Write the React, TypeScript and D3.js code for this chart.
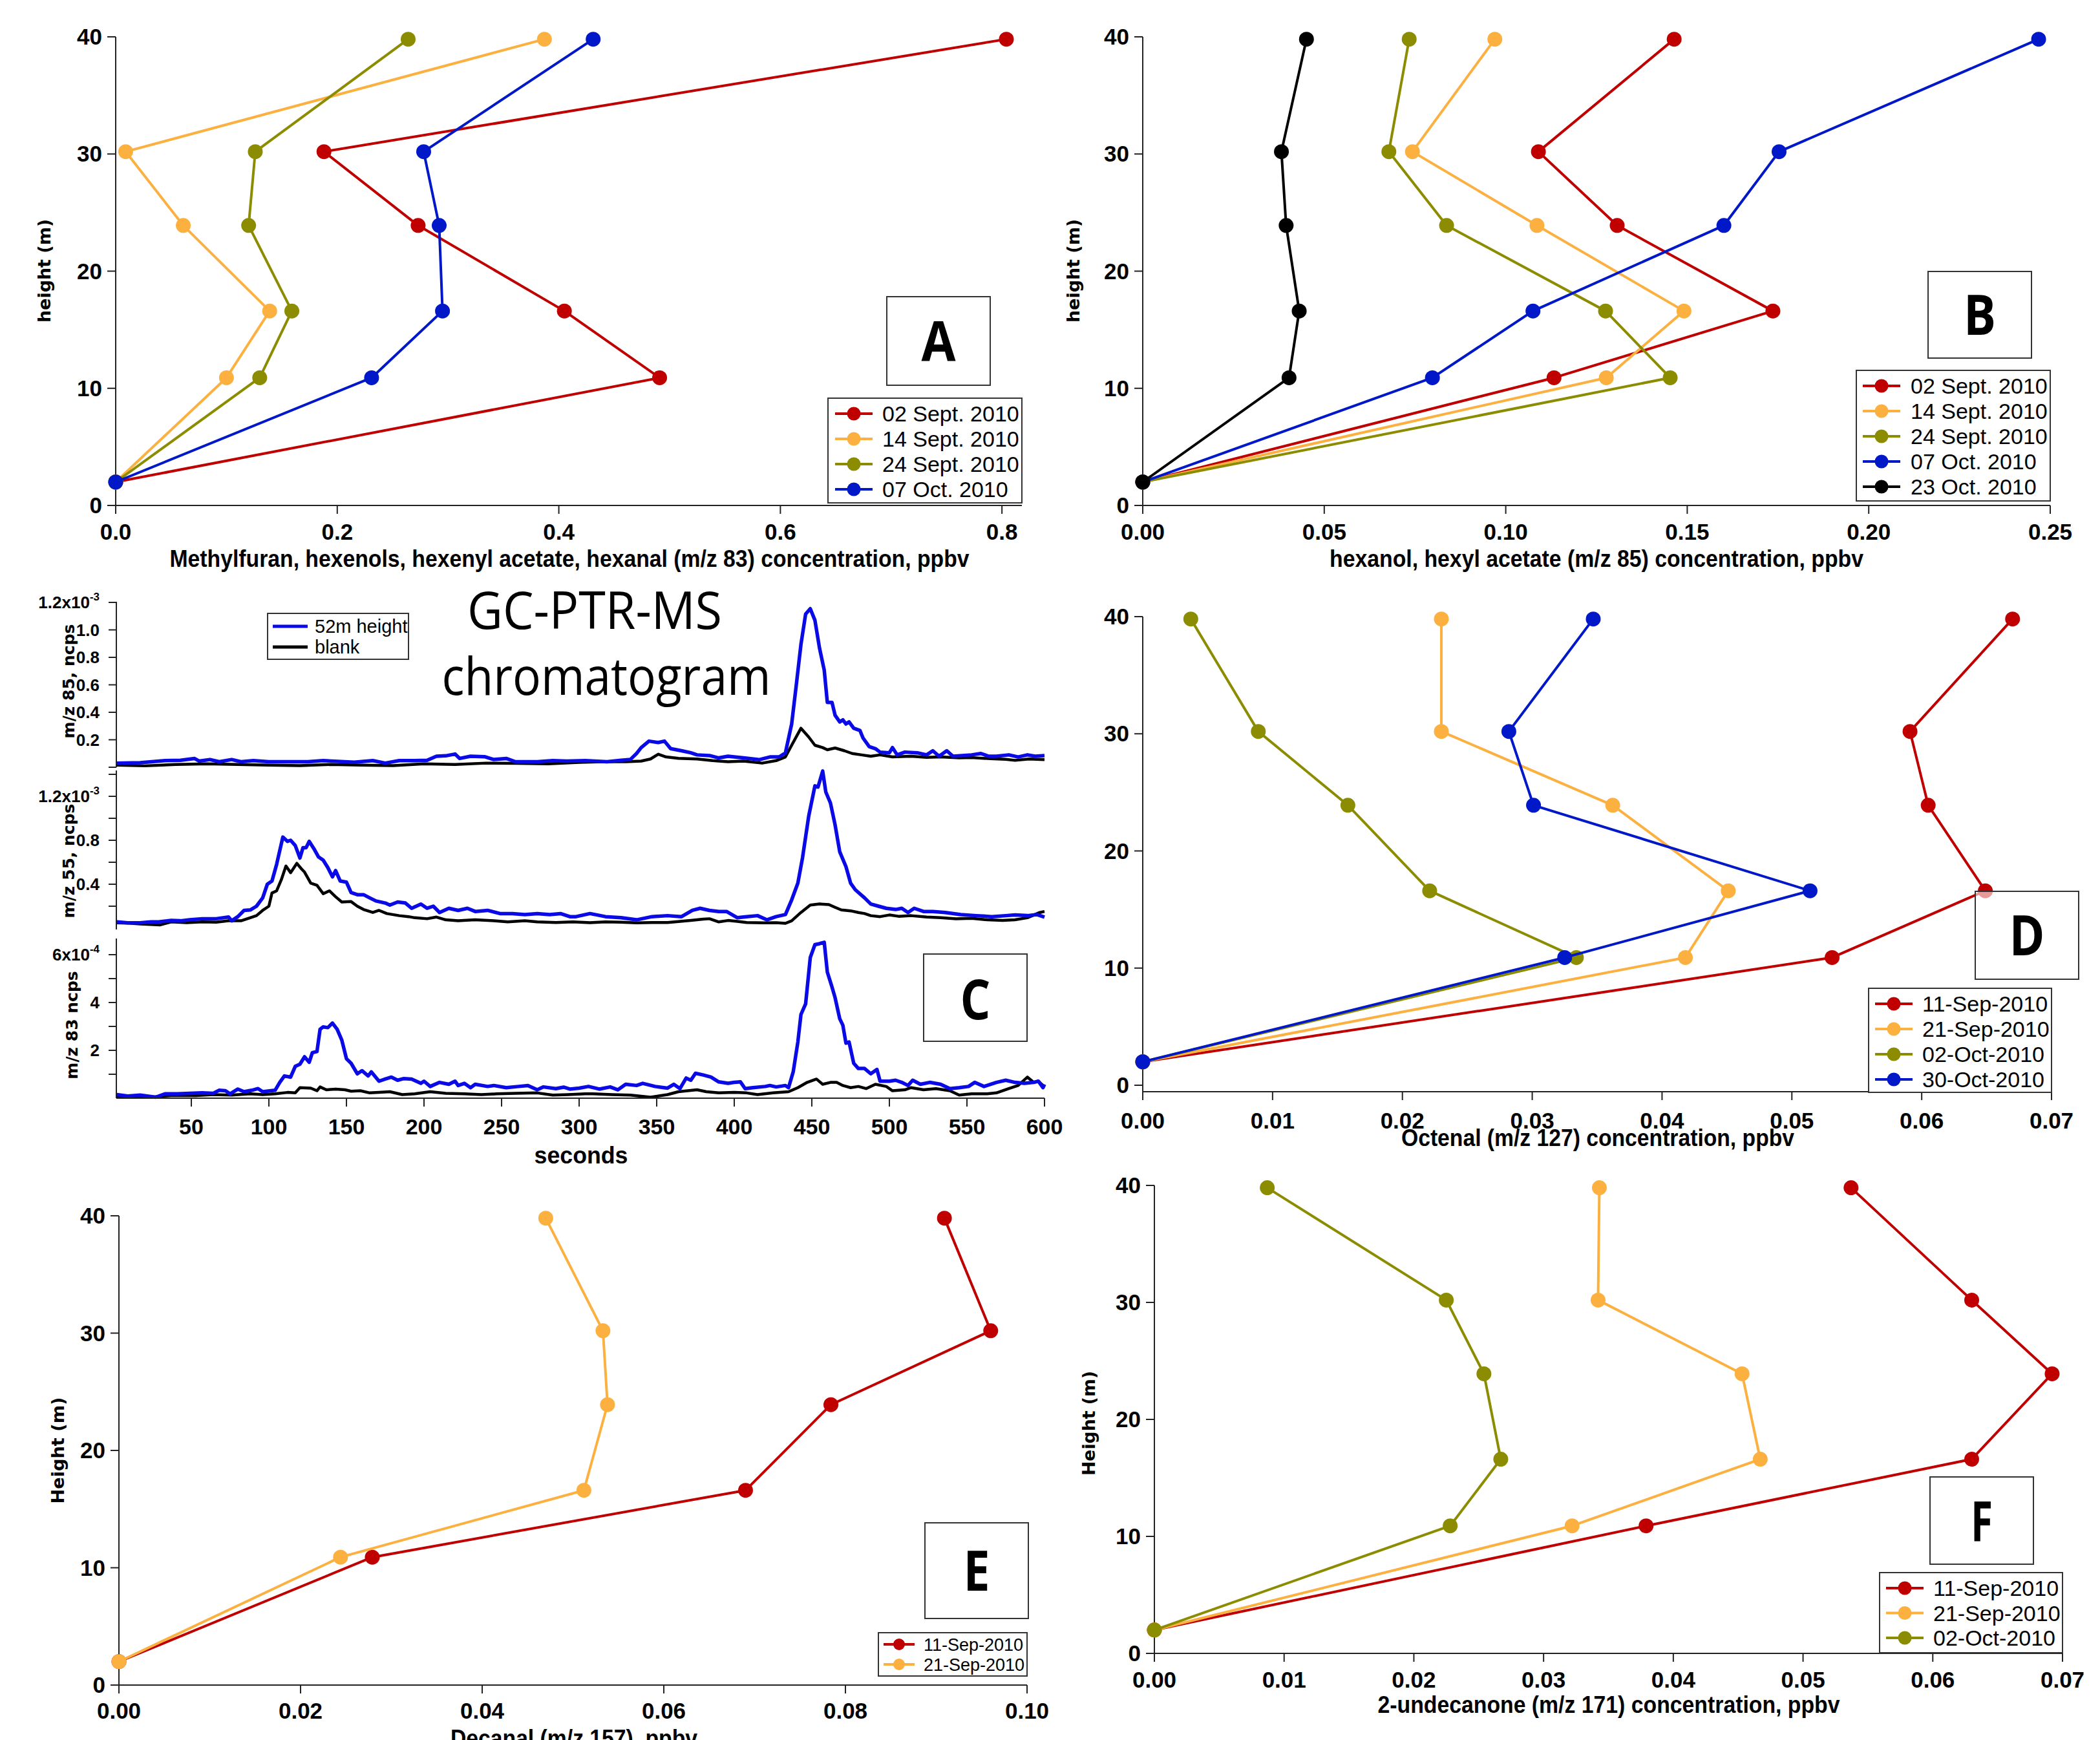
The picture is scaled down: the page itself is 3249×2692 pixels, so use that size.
import * as d3 from "d3";

// sampling heights (m), shared by all profile panels
const heights = [2, 10.9, 16.6, 23.9, 30.2, 39.8];

// Panel A: m/z 83 profiles (ppbv)
const aDates = ["02 Sept. 2010", "14 Sept. 2010", "24 Sept. 2010", "07 Oct. 2010"];
const aSep02 = [0, 0.491, 0.405, 0.273, 0.188, 0.804];
const aSep14 = [0, 0.1, 0.139, 0.061, 0.009, 0.387];
const aSep24 = [0, 0.13, 0.159, 0.12, 0.126, 0.264];
const aOct07 = [0, 0.231, 0.295, 0.292, 0.278, 0.431];

// Panel B: m/z 85 profiles (ppbv)
const bDates = ["02 Sept. 2010", "14 Sept. 2010", "24 Sept. 2010", "07 Oct. 2010", "23 Oct. 2010"];
const bSep02 = [0, 0.1133, 0.1736, 0.1307, 0.109, 0.1464];
const bSep14 = [0, 0.1277, 0.1491, 0.1086, 0.0743, 0.097];
const bSep24 = [0, 0.1453, 0.1275, 0.0837, 0.0678, 0.0734];
const bOct07 = [0, 0.0798, 0.1075, 0.1601, 0.1753, 0.2468];
const bOct23 = [0, 0.0403, 0.0431, 0.0395, 0.0382, 0.0451];

// Panel D: octenal
const dDates = ["11-Sep-2010", "21-Sep-2010", "02-Oct-2010", "30-Oct-2010"];
const dSep11 = [0, 0.0531, 0.0649, 0.0605, 0.0591, 0.067];
const dSep21 = [0, 0.0418, 0.0451, 0.0362, 0.023, 0.023];
const dOct02 = [0, 0.0334, 0.0221, 0.0158, 0.0089, 0.0037];
const dOct30 = [0, 0.0325, 0.0514, 0.0301, 0.0282, 0.0347];

// Panel E: decanal
const eDates = ["11-Sep-2010", "21-Sep-2010"];
const eSep11 = [0, 0.0279, 0.069, 0.0784, 0.096, 0.0909];
const eSep21 = [0, 0.0244, 0.0512, 0.0538, 0.0533, 0.047];

// Panel F: 2-undecanone
const fDates = ["11-Sep-2010", "21-Sep-2010", "02-Oct-2010"];
const fSep11 = [0, 0.0379, 0.063, 0.0692, 0.063, 0.0537];
const fSep21 = [0, 0.0322, 0.0467, 0.0453, 0.0342, 0.0343];
const fOct02 = [0, 0.0228, 0.0267, 0.0254, 0.0225, 0.0087];

// Panel C: chromatogram traces, [seconds, signal]
// m/z 85 in 1e-3 ncps
const mz85Sample: [number, number][] = [
  [2, 0.03], [17, 0.033], [33, 0.048], [43, 0.051], [52, 0.064], [55, 0.045], [62, 0.056], [68, 0.04],
  [76, 0.056], [82, 0.04], [90, 0.048], [100, 0.04], [115, 0.04], [125, 0.04], [135, 0.048], [155, 0.036],
  [167, 0.048], [175, 0.03], [184, 0.048], [194, 0.048], [202, 0.051], [208, 0.08], [214, 0.083], [220, 0.096],
  [223, 0.064], [230, 0.08], [239, 0.077], [245, 0.056], [253, 0.064], [259, 0.04], [273, 0.04], [283, 0.048],
  [292, 0.045], [304, 0.048], [318, 0.04], [327, 0.051], [333, 0.056], [337, 0.1], [340, 0.143], [345, 0.19],
  [351, 0.18], [355, 0.19], [359, 0.135], [366, 0.12], [372, 0.105], [376, 0.09], [384, 0.085], [390, 0.068],
  [396, 0.08], [406, 0.068], [416, 0.055], [423, 0.075], [429, 0.075], [433, 0.105], [437, 0.315], [440, 0.6],
  [443, 0.895], [446, 1.115], [449, 1.154], [452, 1.07], [455, 0.865], [458, 0.707], [460, 0.472], [463, 0.472],
  [465, 0.378], [468, 0.33], [470, 0.345], [472, 0.315], [474, 0.33], [477, 0.284], [481, 0.268], [483, 0.213],
  [487, 0.15], [491, 0.135], [494, 0.11], [500, 0.105], [502, 0.143], [505, 0.09], [510, 0.11], [518, 0.105],
  [524, 0.09], [528, 0.12], [532, 0.08], [537, 0.12], [541, 0.08], [547, 0.085], [553, 0.09], [559, 0.1],
  [564, 0.08], [569, 0.08], [577, 0.09], [583, 0.075], [589, 0.09], [594, 0.08], [600, 0.085],
];
const mz85Blank: [number, number][] = [
  [2, 0.015], [20, 0.01], [40, 0.02], [60, 0.025], [80, 0.02], [100, 0.015], [120, 0.012], [140, 0.02],
  [160, 0.015], [180, 0.012], [200, 0.025], [220, 0.02], [240, 0.03], [260, 0.028], [280, 0.025], [300, 0.035],
  [315, 0.04], [330, 0.04], [340, 0.045], [346, 0.06], [351, 0.095], [356, 0.075], [364, 0.065], [376, 0.06],
  [386, 0.048], [396, 0.04], [406, 0.045], [418, 0.03], [427, 0.048], [433, 0.075], [437, 0.16], [443, 0.284],
  [448, 0.22], [452, 0.16], [457, 0.143], [460, 0.127], [465, 0.14], [471, 0.12], [476, 0.1], [482, 0.09],
  [488, 0.08], [494, 0.09], [502, 0.075], [514, 0.08], [524, 0.072], [533, 0.075], [545, 0.068], [553, 0.07],
  [565, 0.062], [575, 0.058], [581, 0.05], [590, 0.06], [600, 0.055],
];
// m/z 55 in 1e-3 ncps
const mz55Sample: [number, number][] = [
  [2, 0.057], [9, 0.048], [17, 0.048], [24, 0.057], [29, 0.057], [37, 0.07], [43, 0.067], [49, 0.076],
  [57, 0.086], [66, 0.086], [74, 0.101], [76, 0.067], [80, 0.105], [84, 0.162], [88, 0.166], [92, 0.2],
  [96, 0.276], [99, 0.4], [102, 0.429], [105, 0.581], [109, 0.829], [112, 0.79], [114, 0.8], [117, 0.752],
  [120, 0.638], [122, 0.733], [124, 0.733], [126, 0.79], [129, 0.724], [132, 0.648], [135, 0.619], [138, 0.552],
  [141, 0.467], [143, 0.524], [146, 0.429], [150, 0.419], [153, 0.324], [157, 0.305], [161, 0.305], [165, 0.276],
  [169, 0.248], [175, 0.229], [178, 0.21], [183, 0.238], [188, 0.229], [192, 0.181], [198, 0.219], [202, 0.181],
  [206, 0.2], [210, 0.143], [216, 0.181], [222, 0.162], [228, 0.181], [233, 0.152], [241, 0.162], [249, 0.133],
  [257, 0.133], [265, 0.124], [273, 0.133], [281, 0.124], [288, 0.133], [294, 0.105], [298, 0.105], [307, 0.133],
  [317, 0.105], [327, 0.095], [337, 0.076], [347, 0.105], [357, 0.114], [366, 0.105], [373, 0.162], [378, 0.181],
  [384, 0.162], [390, 0.152], [395, 0.152], [402, 0.095], [408, 0.105], [415, 0.114], [421, 0.076], [427, 0.105],
  [433, 0.124], [437, 0.257], [441, 0.41], [444, 0.64], [448, 1.02], [452, 1.295], [454, 1.285], [457, 1.43],
  [459, 1.24], [462, 1.14], [465, 0.94], [468, 0.695], [472, 0.56], [475, 0.41], [478, 0.35], [484, 0.276],
  [488, 0.22], [493, 0.2], [498, 0.181], [504, 0.17], [508, 0.181], [512, 0.143], [516, 0.181], [522, 0.152],
  [528, 0.152], [536, 0.143], [546, 0.124], [556, 0.114], [566, 0.105], [575, 0.114], [581, 0.12], [589, 0.114],
  [595, 0.124], [600, 0.101],
];
const mz55Blank: [number, number][] = [
  [2, 0.048], [10, 0.045], [17, 0.038], [30, 0.03], [37, 0.057], [47, 0.05], [57, 0.057], [66, 0.055],
  [74, 0.067], [82, 0.067], [88, 0.095], [92, 0.114], [96, 0.162], [100, 0.2], [102, 0.32], [105, 0.34],
  [108, 0.44], [111, 0.566], [114, 0.505], [118, 0.59], [121, 0.54], [123, 0.51], [127, 0.41], [131, 0.39],
  [135, 0.314], [139, 0.34], [143, 0.286], [147, 0.238], [153, 0.242], [157, 0.2], [161, 0.17], [167, 0.143],
  [171, 0.162], [176, 0.133], [184, 0.114], [190, 0.105], [194, 0.095], [202, 0.086], [208, 0.101], [214, 0.076],
  [222, 0.067], [233, 0.076], [245, 0.067], [254, 0.057], [265, 0.067], [273, 0.057], [285, 0.051], [296, 0.057],
  [307, 0.05], [317, 0.057], [327, 0.055], [337, 0.048], [347, 0.052], [357, 0.051], [364, 0.06], [372, 0.07],
  [380, 0.082], [384, 0.086], [390, 0.057], [396, 0.07], [402, 0.062], [408, 0.051], [419, 0.048], [427, 0.05],
  [433, 0.044], [437, 0.067], [443, 0.143], [449, 0.21], [455, 0.22], [461, 0.215], [465, 0.19], [469, 0.166],
  [475, 0.158], [480, 0.143], [484, 0.133], [488, 0.114], [494, 0.105], [500, 0.12], [506, 0.108], [514, 0.114],
  [524, 0.101], [533, 0.095], [543, 0.086], [553, 0.09], [563, 0.076], [573, 0.07], [581, 0.076], [589, 0.095],
  [597, 0.143], [600, 0.152],
];
// m/z 83 in 1e-4 ncps
const mz83Sample: [number, number][] = [
  [2, 0.15], [9, 0.09], [17, 0.13], [27, 0.04], [33, 0.18], [41, 0.18], [49, 0.2], [57, 0.22],
  [64, 0.2], [68, 0.33], [72, 0.31], [75, 0.18], [80, 0.38], [84, 0.27], [89, 0.33], [93, 0.4],
  [96, 0.27], [104, 0.33], [107, 0.66], [110, 0.93], [114, 0.88], [117, 1.33], [120, 1.42], [123, 1.73],
  [126, 1.5], [128, 1.9], [131, 1.95], [133, 2.88], [135, 2.98], [138, 2.95], [141, 3.14], [144, 2.88],
  [147, 2.43], [150, 1.65], [153, 1.46], [157, 1.02], [160, 1.15], [164, 0.93], [166, 1.1], [171, 0.71],
  [175, 0.8], [179, 0.88], [183, 0.75], [187, 0.82], [192, 0.8], [198, 0.62], [200, 0.71], [204, 0.49],
  [210, 0.66], [216, 0.58], [220, 0.71], [222, 0.53], [226, 0.62], [230, 0.44], [233, 0.58], [241, 0.49],
  [245, 0.53], [253, 0.44], [261, 0.49], [267, 0.53], [273, 0.35], [277, 0.47], [285, 0.4], [290, 0.46],
  [294, 0.38], [300, 0.42], [306, 0.49], [313, 0.38], [320, 0.47], [325, 0.35], [330, 0.58], [337, 0.53],
  [341, 0.62], [349, 0.49], [357, 0.42], [361, 0.58], [365, 0.4], [369, 0.84], [372, 0.75], [375, 1.04],
  [380, 0.97], [385, 0.88], [390, 0.68], [396, 0.62], [400, 0.66], [404, 0.68], [407, 0.4], [412, 0.44],
  [420, 0.49], [423, 0.53], [427, 0.47], [433, 0.53], [435, 0.44], [438, 1.1], [441, 2.35], [443, 3.5],
  [446, 3.94], [449, 5.88], [452, 6.42], [455, 6.46], [458, 6.52], [460, 5.27], [463, 4.65], [465, 4.2],
  [468, 3.32], [470, 3.05], [472, 2.3], [474, 2.35], [477, 1.46], [480, 1.24], [484, 1.24], [488, 1.02],
  [492, 1.2], [494, 0.71], [500, 0.71], [504, 0.75], [508, 0.66], [512, 0.53], [515, 0.75], [520, 0.58],
  [526, 0.66], [533, 0.58], [539, 0.4], [545, 0.44], [551, 0.49], [555, 0.66], [561, 0.49], [569, 0.66],
  [575, 0.75], [581, 0.66], [587, 0.62], [593, 0.66], [596, 0.71], [599, 0.44], [600, 0.58],
];
const mz83Blank: [number, number][] = [
  [2, 0.09], [17, 0.05], [27, 0.06], [37, 0.11], [53, 0.11], [64, 0.15], [76, 0.13], [88, 0.18],
  [96, 0.15], [104, 0.18], [112, 0.24], [117, 0.22], [120, 0.44], [127, 0.42], [131, 0.31], [133, 0.47],
  [137, 0.35], [143, 0.38], [149, 0.35], [153, 0.29], [159, 0.31], [165, 0.22], [171, 0.24], [178, 0.27],
  [186, 0.15], [194, 0.18], [204, 0.27], [214, 0.2], [226, 0.18], [237, 0.15], [247, 0.18], [259, 0.2],
  [273, 0.22], [283, 0.13], [293, 0.15], [304, 0.18], [309, 0.18], [321, 0.15], [333, 0.13], [346, 0.04],
  [357, 0.15], [364, 0.27], [376, 0.35], [382, 0.27], [390, 0.22], [400, 0.24], [408, 0.22], [415, 0.15],
  [425, 0.22], [435, 0.27], [441, 0.44], [447, 0.66], [453, 0.8], [457, 0.58], [462, 0.66], [466, 0.66],
  [470, 0.53], [475, 0.44], [480, 0.49], [485, 0.4], [491, 0.58], [498, 0.49], [502, 0.31], [510, 0.35],
  [514, 0.44], [522, 0.35], [530, 0.4], [539, 0.31], [545, 0.13], [553, 0.18], [563, 0.18], [569, 0.22],
  [577, 0.4], [583, 0.53], [589, 0.88], [593, 0.66], [596, 0.71], [600, 0.47],
];
const secondsTicks = [50, 100, 150, 200, 250, 300, 350, 400, 450, 500, 550, 600];

const RED = "#c00000";
const ORANGE = "#fbb040";
const OLIVE = "#8c8c00";
const BLUE = "#0018c8";
const BLACK = "#000000";
const TRACE_BLUE = "#0a0ae6";

const SANS = "'Liberation Sans', Arial, Helvetica, sans-serif";
const WIDE = "'DejaVu Sans', Verdana, sans-serif";
const CAL = "'Open Sans', 'Noto Sans', sans-serif";
const AXIS = "#222";

type Series = { name: string; color: string; values: number[] };

type PanelSpec = {
  series: Series[];
  xDomain: [number, number];
  xRange: [number, number];
  tickCount: number;
  fmt: string;
  yRange: [number, number];
  xAxisY?: number;
  tickBase: number;
  xLabel: string;
  xLabelX: number;
  xLabelW: number;
  xLabelBase: number;
  yLabel?: string;
  yLabelX?: number;
  yLabelY?: number;
  yLabelW?: number;
  legend: { x: number; y: number; w: number; h: number; rowY: number; rowH: number; markX: number; textX: number; font: number; half: number; r: number };
  letter: { text: string; x: number; y: number; w: number; h: number; lw: number };
};

const panels: PanelSpec[] = [
  {
    series: [
      { name: aDates[0], color: RED, values: aSep02 },
      { name: aDates[1], color: ORANGE, values: aSep14 },
      { name: aDates[2], color: OLIVE, values: aSep24 },
      { name: aDates[3], color: BLUE, values: aOct07 },
    ],
    xDomain: [0, 0.818], xRange: [179, 1581], tickCount: 5, fmt: ".1f",
    yRange: [782, 57], tickBase: 835,
    xLabel: "Methylfuran, hexenols, hexenyl acetate, hexanal (m/z 83) concentration, ppbv",
    xLabelX: 881, xLabelW: 1237, xLabelBase: 877,
    yLabel: "height (m)", yLabelX: 68, yLabelY: 419, yLabelW: 160,
    legend: { x: 1281, y: 616, w: 300, h: 162, rowY: 640, rowH: 39, markX: 1321, textX: 1365, font: 34, half: 29, r: 10.5 },
    letter: { text: "A", x: 1372, y: 459, w: 160, h: 137, lw: 53 },
  },
  {
    series: [
      { name: bDates[0], color: RED, values: bSep02 },
      { name: bDates[1], color: ORANGE, values: bSep14 },
      { name: bDates[2], color: OLIVE, values: bSep24 },
      { name: bDates[3], color: BLUE, values: bOct07 },
      { name: bDates[4], color: BLACK, values: bOct23 },
    ],
    xDomain: [0, 0.25], xRange: [1768, 3172], tickCount: 5, fmt: ".2f",
    yRange: [782, 57], tickBase: 835,
    xLabel: "hexanol, hexyl acetate (m/z 85) concentration, ppbv",
    xLabelX: 2470, xLabelW: 826, xLabelBase: 877,
    yLabel: "height (m)", yLabelX: 1660, yLabelY: 419, yLabelW: 160,
    legend: { x: 2872, y: 573, w: 300, h: 202, rowY: 597, rowH: 39, markX: 2911, textX: 2956, font: 34, half: 29, r: 10.5 },
    letter: { text: "B", x: 2983, y: 420, w: 160, h: 134, lw: 50 },
  },
  {
    series: [
      { name: dDates[0], color: RED, values: dSep11 },
      { name: dDates[1], color: ORANGE, values: dSep21 },
      { name: dDates[2], color: OLIVE, values: dOct02 },
      { name: dDates[3], color: BLUE, values: dOct30 },
    ],
    xDomain: [0, 0.07], xRange: [1768, 3174], tickCount: 7, fmt: ".2f",
    yRange: [1679, 954], xAxisY: 1689, tickBase: 1746,
    xLabel: "Octenal (m/z 127) concentration, ppbv",
    xLabelX: 2472, xLabelW: 608, xLabelBase: 1773,
    legend: { x: 2891, y: 1529, w: 283, h: 161, rowY: 1553, rowH: 39, markX: 2930, textX: 2974, font: 34, half: 29, r: 10.5 },
    letter: { text: "D", x: 3056, y: 1379, w: 160, h: 136, lw: 55 },
  },
  {
    series: [
      { name: eDates[0], color: RED, values: eSep11 },
      { name: eDates[1], color: ORANGE, values: eSep21 },
    ],
    xDomain: [0, 0.1], xRange: [184, 1589], tickCount: 5, fmt: ".2f",
    yRange: [2607, 1881], tickBase: 2659,
    xLabel: "Decanal (m/z 157), ppbv",
    xLabelX: 888, xLabelW: 382, xLabelBase: 2702,
    yLabel: "Height (m)", yLabelX: 89, yLabelY: 2244, yLabelW: 165,
    legend: { x: 1359, y: 2526, w: 230, h: 67, rowY: 2544, rowH: 31, markX: 1391, textX: 1429, font: 27, half: 24, r: 9 },
    letter: { text: "E", x: 1431, y: 2356, w: 160, h: 148, lw: 41 },
  },
  {
    series: [
      { name: fDates[0], color: RED, values: fSep11 },
      { name: fDates[1], color: ORANGE, values: fSep21 },
      { name: fDates[2], color: OLIVE, values: fOct02 },
    ],
    xDomain: [0, 0.07], xRange: [1786, 3191], tickCount: 7, fmt: ".2f",
    yRange: [2558, 1834], tickBase: 2611,
    xLabel: "2-undecanone (m/z 171) concentration, ppbv",
    xLabelX: 2489, xLabelW: 715, xLabelBase: 2650,
    yLabel: "Height (m)", yLabelX: 1684, yLabelY: 2202, yLabelW: 162,
    legend: { x: 2908, y: 2433, w: 283, h: 124, rowY: 2457, rowH: 38.5, markX: 2947, textX: 2991, font: 34, half: 29, r: 10.5 },
    letter: { text: "F", x: 2986, y: 2285, w: 160, h: 135, lw: 34 },
  },
];

function ProfilePanel(p: PanelSpec) {
  const x = d3.scaleLinear().domain(p.xDomain).range(p.xRange);
  const y = d3.scaleLinear().domain([0, 40]).range(p.yRange);
  const axisY = p.xAxisY ?? y(0);
  const x0 = x(0);
  const fmt = d3.format(p.fmt);
  const line = d3.line<number>().x((v) => x(v)).y((_, i) => y(heights[i]));
  const lg = p.legend;
  const lt = p.letter;
  return (
    <g>
      {/* axes */}
      <line x1={x0} x2={p.xRange[1]} y1={axisY} y2={axisY} stroke={AXIS} strokeWidth={2} />
      <line x1={x0} x2={x0} y1={y(40)} y2={axisY} stroke={AXIS} strokeWidth={2} />
      {x.ticks(p.tickCount).map((t) => (
        <g key={t}>
          <line x1={x(t)} x2={x(t)} y1={axisY} y2={axisY + 13} stroke={AXIS} strokeWidth={2} />
          <text x={x(t)} y={p.tickBase} textAnchor="middle" fontFamily={SANS} fontWeight="bold" fontSize={35}>{fmt(t)}</text>
        </g>
      ))}
      {y.ticks(4).map((t) => (
        <g key={t}>
          <line x1={x0 - 13} x2={x0} y1={y(t)} y2={y(t)} stroke={AXIS} strokeWidth={2} />
          <text x={x0 - 21} y={y(t) + 12} textAnchor="end" fontFamily={SANS} fontWeight="bold" fontSize={35}>{t}</text>
        </g>
      ))}
      <text x={p.xLabelX} y={p.xLabelBase} textAnchor="middle" fontFamily={SANS} fontWeight="bold" fontSize={36}
        textLength={p.xLabelW} lengthAdjust="spacingAndGlyphs">{p.xLabel}</text>
      {p.yLabel && (
        <text transform={`translate(${p.yLabelX},${p.yLabelY}) rotate(-90)`} textAnchor="middle" dominantBaseline="central"
          fontFamily={WIDE} fontWeight="bold" fontSize={27} textLength={p.yLabelW} lengthAdjust="spacingAndGlyphs">{p.yLabel}</text>
      )}
      {/* profiles */}
      {p.series.map((s) => (
        <g key={s.name}>
          <path d={line(s.values) ?? ""} fill="none" stroke={s.color} strokeWidth={4} strokeLinejoin="round" />
          {s.values.map((v, i) => (
            <circle key={i} cx={x(v)} cy={y(heights[i])} r={11.5} fill={s.color} />
          ))}
        </g>
      ))}
      {/* letter box */}
      <rect x={lt.x} y={lt.y} width={lt.w} height={lt.h} fill="#fff" fillOpacity={0.6} stroke="#333" strokeWidth={2} />
      <text x={lt.x + lt.w / 2} y={lt.y + lt.h / 2 + 31} textAnchor="middle" fontFamily={CAL} fontWeight="bold" fontSize={86}
        textLength={lt.lw} lengthAdjust="spacingAndGlyphs">{lt.text}</text>
      {/* legend */}
      <rect x={lg.x} y={lg.y} width={lg.w} height={lg.h} fill="#fff" stroke="#333" strokeWidth={2} />
      {p.series.map((s, i) => {
        const cy = lg.rowY + i * lg.rowH;
        return (
          <g key={s.name}>
            <line x1={lg.markX - lg.half} x2={lg.markX + lg.half} y1={cy} y2={cy} stroke={s.color} strokeWidth={4} />
            <circle cx={lg.markX} cy={cy} r={lg.r} fill={s.color} />
            <text x={lg.textX} y={cy + lg.font * 0.36} fontFamily={SANS} fontSize={lg.font}>{s.name}</text>
          </g>
        );
      })}
    </g>
  );
}

type SubPanel = {
  sample: [number, number][];
  blank: [number, number][];
  domain: [number, number];
  range: [number, number];
  axisTop: number;
  axisBottom: number;
  ticks: number[];
  labels: { v: number; main: string; sup?: string }[];
  title: string;
  titleX: number;
  titleY: number;
};

const subPanels: SubPanel[] = [
  {
    sample: mz85Sample, blank: mz85Blank, domain: [0, 1.2], range: [1187, 932], axisTop: 931, axisBottom: 1187,
    ticks: [0, 0.2, 0.4, 0.6, 0.8, 1.0, 1.2],
    labels: [{ v: 1.2, main: "1.2x10", sup: "-3" }, { v: 1.0, main: "1.0" }, { v: 0.8, main: "0.8" }, { v: 0.6, main: "0.6" }, { v: 0.4, main: "0.4" }, { v: 0.2, main: "0.2" }],
    title: "m/z 85, ncps", titleX: 106, titleY: 1054,
  },
  {
    sample: mz55Sample, blank: mz55Blank, domain: [0, 1.2], range: [1436, 1232], axisTop: 1192, axisBottom: 1438,
    ticks: [0.2, 0.4, 0.6, 0.8, 1.0, 1.2, 1.4],
    labels: [{ v: 1.2, main: "1.2x10", sup: "-3" }, { v: 0.8, main: "0.8" }, { v: 0.4, main: "0.4" }],
    title: "m/z 55, ncps", titleX: 106, titleY: 1332,
  },
  {
    sample: mz83Sample, blank: mz83Blank, domain: [0, 6], range: [1699, 1477], axisTop: 1452, axisBottom: 1699,
    ticks: [1, 2, 3, 4, 5, 6],
    labels: [{ v: 6, main: "6x10", sup: "-4" }, { v: 4, main: "4" }, { v: 2, main: "2" }],
    title: "m/z 83 ncps", titleX: 111, titleY: 1586,
  },
];

function Chromatogram() {
  const x = d3.scaleLinear().domain([0, 600]).range([176, 1616]);
  const axisX = 180;
  const baseY = 1699;
  return (
    <g>
      {subPanels.map((sp) => {
        const y = d3.scaleLinear().domain(sp.domain).range(sp.range);
        const line = d3.line<[number, number]>().x((d) => x(d[0])).y((d) => y(d[1]));
        return (
          <g key={sp.title}>
            <line x1={axisX} x2={axisX} y1={sp.axisTop} y2={sp.axisBottom} stroke={AXIS} strokeWidth={2} />
            {sp.ticks.map((t) => (
              <line key={t} x1={axisX - 12} x2={axisX} y1={y(t)} y2={y(t)} stroke={AXIS} strokeWidth={2} />
            ))}
            {sp.labels.map((l) => (
              <text key={l.v} x={154} y={y(l.v) + 9} textAnchor="end" fontFamily={SANS} fontWeight="bold" fontSize={26}>
                {l.main}
                {l.sup && <tspan dy={-12} fontSize={17}>{l.sup}</tspan>}
              </text>
            ))}
            <text transform={`translate(${sp.titleX},${sp.titleY}) rotate(-90)`} textAnchor="middle" dominantBaseline="central"
              fontFamily={WIDE} fontWeight="bold" fontSize={25}>{sp.title}</text>
            <path d={line(sp.blank) ?? ""} fill="none" stroke={BLACK} strokeWidth={4.5} strokeLinejoin="round" />
            <path d={line(sp.sample) ?? ""} fill="none" stroke={TRACE_BLUE} strokeWidth={5.5} strokeLinejoin="round" />
          </g>
        );
      })}
      {/* time axis */}
      <line x1={axisX} x2={x(600)} y1={baseY} y2={baseY} stroke={AXIS} strokeWidth={2} />
      {secondsTicks.map((t) => (
        <g key={t}>
          <line x1={x(t)} x2={x(t)} y1={baseY} y2={baseY + 13} stroke={AXIS} strokeWidth={2} />
          <text x={x(t)} y={1755} textAnchor="middle" fontFamily={SANS} fontWeight="bold" fontSize={34}>{t}</text>
        </g>
      ))}
      <text x={899} y={1800} textAnchor="middle" fontFamily={SANS} fontWeight="bold" fontSize={36}
        textLength={145} lengthAdjust="spacingAndGlyphs">seconds</text>
      {/* legend */}
      <rect x={414} y={949} width={218} height={71} fill="#fff" stroke="#333" strokeWidth={2} />
      <line x1={422} x2={476} y1={969} y2={969} stroke={TRACE_BLUE} strokeWidth={5} />
      <text x={487} y={979} fontFamily={SANS} fontSize={29}>52m height</text>
      <line x1={422} x2={476} y1={1001} y2={1001} stroke={BLACK} strokeWidth={5} />
      <text x={487} y={1011} fontFamily={SANS} fontSize={29}>blank</text>
      {/* title */}
      <text x={920} y={973} textAnchor="middle" fontFamily={CAL} fontSize={80} textLength={394} lengthAdjust="spacingAndGlyphs">GC-PTR-MS</text>
      <text x={938} y={1075} textAnchor="middle" fontFamily={CAL} fontSize={80} textLength={509} lengthAdjust="spacingAndGlyphs">chromatogram</text>
      {/* letter box */}
      <rect x={1429} y={1476} width={160} height={135} fill="#fff" fillOpacity={0.6} stroke="#333" strokeWidth={2} />
      <text x={1509} y={1577} textAnchor="middle" fontFamily={CAL} fontWeight="bold" fontSize={86} textLength={47} lengthAdjust="spacingAndGlyphs">C</text>
    </g>
  );
}

export default function App() {
  return (
    <svg width={3249} height={2692} viewBox="0 0 3249 2692" style={{ position: "absolute", left: 0, top: 0, display: "block" }}>
      <rect width={3249} height={2692} fill="#fff" />
      {panels.map((p) => (
        <ProfilePanel key={p.letter.text} {...p} />
      ))}
      <Chromatogram />
    </svg>
  );
}
